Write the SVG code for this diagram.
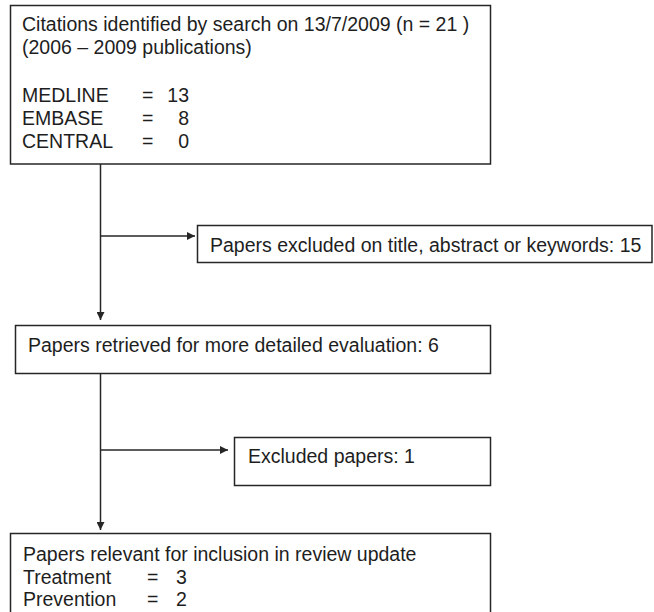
<svg xmlns="http://www.w3.org/2000/svg" width="654" height="612" viewBox="0 0 654 612">
  <style>
    .box { fill: #ffffff; stroke: #262626; stroke-width: 1.5; }
    .lbl { font-family: "Liberation Sans", Arial, sans-serif; font-size: 19.5px; fill: #1e1e1e; }
    .conn { stroke: #262626; stroke-width: 1.5; fill: none; }
  </style>
  <defs>
    <marker id="arrow" viewBox="0 0 10 10" refX="10" refY="5" markerWidth="8" markerHeight="8" markerUnits="userSpaceOnUse" orient="auto">
      <path d="M0,0 L10,5 L0,10 Z" fill="#262626"/>
    </marker>
  </defs>
  <rect x="0" y="0" width="654" height="612" fill="#ffffff"/>

  <g id="connectors">
    <line class="conn" x1="100.5" y1="164" x2="100.5" y2="320" marker-end="url(#arrow)"/>
    <line class="conn" x1="100.5" y1="236" x2="195" y2="236" marker-end="url(#arrow)"/>
    <line class="conn" x1="100.5" y1="373" x2="100.5" y2="530" marker-end="url(#arrow)"/>
    <line class="conn" x1="100.5" y1="450" x2="228" y2="450" marker-end="url(#arrow)"/>
  </g>

  <g id="citations">
    <rect class="box" x="10.5" y="5.5" width="480" height="158.5"/>
    <text class="lbl" x="22" y="31">Citations identified by search on 13/7/2009 (n = 21 )</text>
    <text class="lbl" x="22" y="54">(2006 – 2009 publications)</text>
    <text class="lbl" y="102"><tspan x="22">MEDLINE</tspan><tspan x="142">=</tspan><tspan x="189" text-anchor="end">13</tspan></text>
    <text class="lbl" y="125"><tspan x="22">EMBASE</tspan><tspan x="142">=</tspan><tspan x="189" text-anchor="end">8</tspan></text>
    <text class="lbl" y="148"><tspan x="22">CENTRAL</tspan><tspan x="142">=</tspan><tspan x="189" text-anchor="end">0</tspan></text>
  </g>

  <g id="excluded-title">
    <rect class="box" x="197.5" y="225.5" width="454.5" height="37"/>
    <text class="lbl" x="210" y="252">Papers excluded on title, abstract or keywords: 15</text>
  </g>

  <g id="retrieved">
    <rect class="box" x="15.5" y="325.5" width="475" height="48"/>
    <text class="lbl" x="28" y="352">Papers retrieved for more detailed evaluation: 6</text>
  </g>

  <g id="excluded-papers">
    <rect class="box" x="234.5" y="437.5" width="256" height="48"/>
    <text class="lbl" x="248" y="463">Excluded papers: 1</text>
  </g>

  <g id="relevant">
    <rect class="box" x="10.5" y="533.5" width="480" height="85"/>
    <text class="lbl" x="23" y="561">Papers relevant for inclusion in review update</text>
    <text class="lbl" y="584"><tspan x="23">Treatment</tspan><tspan x="147">=</tspan><tspan x="176">3</tspan></text>
    <text class="lbl" y="606"><tspan x="23">Prevention</tspan><tspan x="147">=</tspan><tspan x="176">2</tspan></text>
  </g>
</svg>
